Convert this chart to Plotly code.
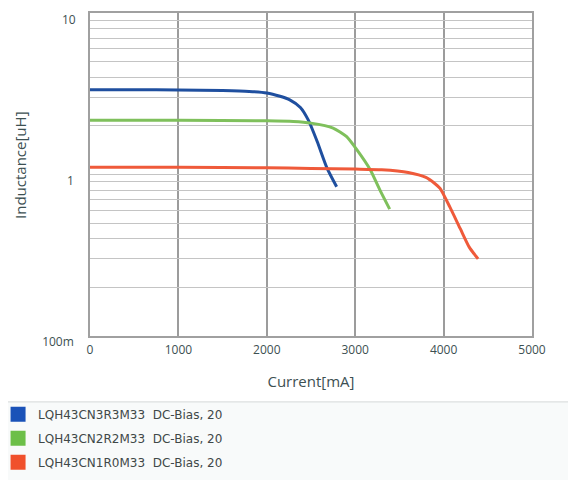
import plotly.graph_objects as go

# DC-bias curves (current in mA, inductance in uH)
blue_i = [0, 500, 1000, 1500, 1800, 2000, 2150, 2260, 2380, 2470, 2570, 2680, 2790]
blue_l = [3.35, 3.35, 3.34, 3.31, 3.27, 3.2, 3.05, 2.9, 2.6, 2.17, 1.6, 1.1, 0.84]

green_i = [0, 1000, 2000, 2300, 2500, 2750, 2900, 3020, 3170, 3280, 3390]
green_l = [2.17, 2.17, 2.15, 2.13, 2.08, 1.94, 1.72, 1.42, 1.07, 0.80, 0.61]

red_i = [0, 1000, 2000, 2500, 3000, 3300, 3600, 3800, 3900, 3960, 4070, 4190, 4290, 4350, 4390]
red_l = [1.11, 1.11, 1.10, 1.09, 1.08, 1.07, 1.03, 0.96, 0.88, 0.82, 0.63, 0.46, 0.355, 0.32, 0.30]

names = [
    "LQH43CN3R3M33\u00a0\u00a0DC-Bias, 20",
    "LQH43CN2R2M33\u00a0\u00a0DC-Bias, 20",
    "LQH43CN1R0M33\u00a0\u00a0DC-Bias, 20",
]
x_ticks = [0, 1000, 2000, 3000, 4000, 5000]
y_labels = {0.1: "100m", 1: "1"}
y_top_label = "10"

line_colors = ["#1f4f9f", "#7fc05c", "#ef5a3a"]
box_colors = ["#1a52b8", "#6cbf48", "#f0502c"]
TXT = "#3d5052"

# log grid: 1..9 per decade, labels only on decades
y_grid = [m * 10 ** d for d in (-1, 0) for m in range(1, 10)] + [10]
y_text = [y_labels.get(round(v, 6), "") for v in y_grid]

fig = go.Figure()
series = [(blue_i, blue_l), (green_i, green_l), (red_i, red_l)]
for k, (xs, ys) in enumerate(series):
    fig.add_trace(go.Scatter(
        x=xs, y=ys, mode="lines", line=dict(color=line_colors[k], width=3, shape="spline", smoothing=0.6),
        legendgroup=str(k), showlegend=False, hoverinfo="skip",
    ))
    # legend swatch only
    fig.add_trace(go.Scatter(
        x=[None], y=[None], mode="markers", name=names[k], legendgroup=str(k),
        marker=dict(symbol="square", size=15, color=box_colors[k]),
    ))

# light box behind the legend
fig.add_shape(type="rect", xref="paper", yref="paper", x0=-0.19, x1=1.088, y0=-0.45, y1=-0.204,
              line=dict(color="#d4d8d8", width=1), fillcolor="#f8fafa", layer="below")

# y title as annotation (axis title misplaces with fixed margins)
fig.add_annotation(text="Inductance[uH]", xref="paper", yref="paper", x=-0.158, y=0.53,
                   xanchor="center", yanchor="middle",
                   textangle=-90, showarrow=False, font=dict(size=15, color=TXT))
# top decade label (the axis drops the label at the range end)
fig.add_annotation(text=y_top_label, xref="paper", yref="y", x=-0.027, y=1, xanchor="right",
                   yshift=-6, showarrow=False, font=dict(size=12, color=TXT))

# page body has an 8px margin, so the margins are shifted to keep the plot area in place
fig.update_layout(
    width=576, height=480,
    margin=dict(l=82, r=52, t=5, b=152, autoexpand=False),
    paper_bgcolor="white", plot_bgcolor="white",
    font=dict(family="Open Sans, Liberation Sans, sans-serif", color=TXT, size=12),
    showlegend=True,
    legend=dict(
        xref="paper", yref="paper", x=-0.208, y=-0.197, xanchor="left", yanchor="top",
        bgcolor="rgba(0,0,0,0)", tracegroupgap=5,
        font=dict(family="DejaVu Sans, sans-serif", size=12, color="#404848"),
    ),
)
fig.update_xaxes(
    range=[0, 5000], tickvals=x_ticks, ticks="", showgrid=True, gridcolor="#9c9c9c", gridwidth=1.5,
    showline=True, mirror=True, linecolor="#a0a0a0", linewidth=1.5, zeroline=False,
    tickfont=dict(size=12, color=TXT), ticklabelstandoff=2,
    title=dict(text="Current[mA]", font=dict(size=15, color=TXT), standoff=19),
)
fig.update_yaxes(
    type="log", range=[-1, 1], tickvals=y_grid, ticktext=y_text, ticks="",
    showgrid=True, gridcolor="#c4c4c4", gridwidth=1.2,
    showline=True, mirror=True, linecolor="#a0a0a0", linewidth=1.5, zeroline=False,
    tickfont=dict(size=12, color=TXT), ticklabelshift=6, ticklabelstandoff=12,
)

fig.write_html("out.html")
